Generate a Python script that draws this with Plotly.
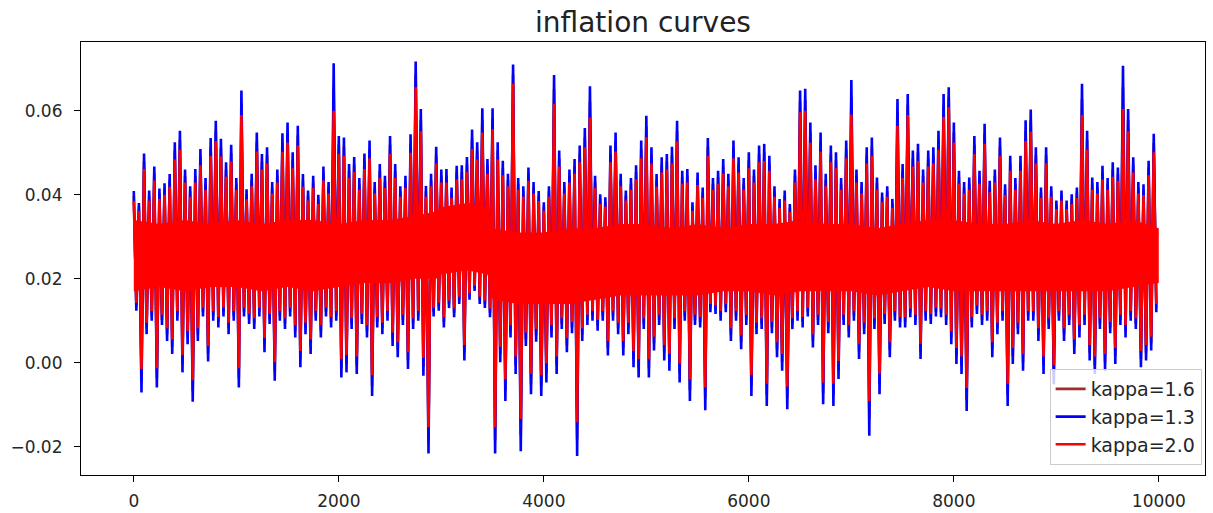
import plotly.graph_objects as go

t_hi = list(range(0, 10000, 50))
t_lo = list(range(25, 10000, 50))

# kappa = 1.3 (blue)
blue_hi = [0.0409, 0.038, 0.0498, 0.041, 0.0467, 0.0415, 0.0427, 0.0449, 0.0525, 0.0552,
           0.046, 0.042, 0.0461, 0.0509, 0.044, 0.0535, 0.0576, 0.0533, 0.0477, 0.0519,
           0.044, 0.0648, 0.0413, 0.045, 0.0548, 0.0497, 0.0513, 0.043, 0.046, 0.0546,
           0.0572, 0.0501, 0.0564, 0.0449, 0.041, 0.0445, 0.040, 0.0467, 0.043, 0.0713,
           0.0540, 0.0536, 0.0473, 0.0490, 0.044, 0.0498, 0.0529, 0.043, 0.0473, 0.0445,
           0.0540, 0.0473, 0.042, 0.0445, 0.0544, 0.0717, 0.0604, 0.0421, 0.045, 0.0514,
           0.046, 0.0461, 0.0417, 0.0469, 0.047, 0.049, 0.0555, 0.0525, 0.0606, 0.0485,
           0.0606, 0.0525, 0.0481, 0.045, 0.0710, 0.044, 0.042, 0.0465, 0.043, 0.0409,
           0.0382, 0.042, 0.0685, 0.0505, 0.043, 0.046, 0.0485, 0.0517, 0.0559, 0.0658,
           0.0445, 0.0401, 0.0394, 0.0517, 0.0548, 0.045, 0.041, 0.044, 0.047, 0.0529,
           0.0588, 0.0513, 0.0449, 0.0489, 0.0497, 0.0514, 0.0576, 0.0457, 0.0461, 0.0382,
           0.0453, 0.0417, 0.0535, 0.044, 0.0457, 0.0485, 0.045, 0.0529, 0.0489, 0.044,
           0.0501, 0.046, 0.0517, 0.0521, 0.0493, 0.042, 0.0390, 0.041, 0.0378, 0.046,
           0.0648, 0.0652, 0.0572, 0.047, 0.0548, 0.045, 0.0517, 0.0501, 0.044, 0.0529,
           0.0673, 0.046, 0.043, 0.0513, 0.0536, 0.0441, 0.0405, 0.042, 0.0390, 0.0628,
           0.0473, 0.0640, 0.0505, 0.0521, 0.046, 0.0505, 0.0513, 0.0552, 0.064, 0.0656,
           0.0572, 0.0457, 0.043, 0.0441, 0.0540, 0.0457, 0.0569, 0.0433, 0.046, 0.0536,
           0.0425, 0.0493, 0.044, 0.0493, 0.0577, 0.0603, 0.0513, 0.0417, 0.0513, 0.042,
           0.0386, 0.041, 0.0386, 0.0401, 0.0417, 0.0664, 0.0552, 0.0441, 0.043, 0.0469,
           0.044, 0.0477, 0.0465, 0.0707, 0.0604, 0.0489, 0.043, 0.0425, 0.0481, 0.0545]
blue_lo = [0.0124, -0.0071, 0.0068, 0.010, -0.0059, 0.009, 0.0052, 0.0021, 0.010, -0.0023,
           0.0044, -0.0093, 0.0052, 0.011, 0.0003, 0.010, 0.0084, 0.011, 0.0068, 0.010,
           -0.0059, 0.011, 0.0092, 0.008, 0.011, 0.0025, 0.0092, -0.0043, 0.010, 0.008,
           0.011, 0.006, -0.0011, 0.0068, 0.0021, 0.010, 0.0060, 0.011, 0.0084, 0.010,
           -0.0035, -0.0023, 0.008, -0.0027, 0.0092, 0.006, -0.0079, 0.0084, 0.0068, 0.010,
           0.0040, 0.0013, 0.009, -0.0015, 0.008, 0.010, -0.0031, -0.0216, 0.011, 0.0124,
           0.0084, 0.013, 0.0108, 0.014, 0.0005, 0.015, 0.0171, 0.014, 0.013, 0.0108,
           -0.0216, 0.0001, -0.0091, 0.006, -0.0027, -0.0211, 0.004, -0.0075, 0.005, -0.0079,
           -0.0047, 0.006, -0.0027, 0.008, 0.0025, 0.007, -0.0222, 0.0052, 0.009, 0.010,
           0.0076, 0.0100, 0.0017, 0.010, 0.0068, 0.0017, 0.0068, -0.0011, -0.0035, 0.008,
           -0.0035, 0.0029, 0.009, 0.0005, -0.0019, 0.008, -0.0047, 0.010, -0.0091, 0.009,
           0.0084, -0.0113, 0.012, 0.0116, 0.010, 0.012, 0.0052, 0.010, 0.0032, 0.009,
           -0.0079, 0.0068, 0.008, -0.0103, 0.007, 0.0013, -0.0019, -0.0111, 0.008, 0.010,
           0.0084, 0.011, 0.0036, 0.009, -0.0099, 0.007, -0.0103, -0.0039, 0.009, 0.0060,
           0.010, 0.0009, 0.0068, -0.0174, 0.008, -0.0075, 0.0092, 0.0013, 0.010, 0.0084,
           0.0084, 0.0108, 0.009, 0.0009, 0.010, 0.0092, 0.011, 0.0108, 0.009, 0.0044,
           -0.0003, -0.0027, -0.0115, 0.0084, 0.0116, 0.009, 0.0100, 0.0013, 0.0068, 0.010,
           -0.0103, -0.0003, 0.0068, -0.0019, 0.010, 0.0100, 0.0052, -0.0027, 0.008, -0.0051,
           0.0100, 0.0052, 0.009, 0.0021, 0.0060, 0.009, 0.0005, -0.0027, 0.008, -0.0019,
           0.007, -0.0003, 0.009, 0.0060, 0.010, 0.008, -0.0011, 0.0005, 0.0029, 0.012]

# kappa = 2.0 (red)
red_hi = [0.0385, 0.0361, 0.0461, 0.0386, 0.0434, 0.0390, 0.0400, 0.0419, 0.0484, 0.0507,
          0.0429, 0.0395, 0.0429, 0.0470, 0.0412, 0.0492, 0.0527, 0.0491, 0.0443, 0.0479,
          0.0412, 0.0590, 0.0389, 0.0420, 0.0503, 0.0460, 0.0474, 0.0403, 0.0429, 0.0502,
          0.0524, 0.0463, 0.0517, 0.0419, 0.0386, 0.0416, 0.0378, 0.0434, 0.0403, 0.0600,
          0.0497, 0.0493, 0.0440, 0.0454, 0.0412, 0.0461, 0.0487, 0.0403, 0.0440, 0.0416,
          0.0497, 0.0440, 0.0395, 0.0416, 0.0500, 0.0656, 0.0551, 0.0395, 0.0420, 0.0474,
          0.0429, 0.0429, 0.0392, 0.0436, 0.0437, 0.0454, 0.0509, 0.0484, 0.0548, 0.0450,
          0.0556, 0.0484, 0.0446, 0.0420, 0.0664, 0.0412, 0.0395, 0.0433, 0.0403, 0.0385,
          0.0362, 0.0395, 0.0616, 0.0467, 0.0403, 0.0429, 0.0450, 0.0477, 0.0513, 0.0584,
          0.0416, 0.0378, 0.0372, 0.0477, 0.0503, 0.0420, 0.0386, 0.0412, 0.0437, 0.0487,
          0.0537, 0.0474, 0.0419, 0.0453, 0.0460, 0.0474, 0.0527, 0.0426, 0.0429, 0.0362,
          0.0423, 0.0392, 0.0492, 0.0412, 0.0426, 0.0450, 0.0420, 0.0487, 0.0453, 0.0412,
          0.0463, 0.0429, 0.0477, 0.0480, 0.0457, 0.0395, 0.0369, 0.0386, 0.0359, 0.0429,
          0.0596, 0.0600, 0.0524, 0.0437, 0.0503, 0.0420, 0.0477, 0.0463, 0.0412, 0.0487,
          0.0591, 0.0429, 0.0403, 0.0474, 0.0493, 0.0412, 0.0382, 0.0395, 0.0369, 0.0564,
          0.0440, 0.0590, 0.0467, 0.0480, 0.0429, 0.0467, 0.0474, 0.0507, 0.0585, 0.0608,
          0.0524, 0.0426, 0.0403, 0.0412, 0.0497, 0.0426, 0.0521, 0.0406, 0.0429, 0.0493,
          0.0399, 0.0457, 0.0412, 0.0457, 0.0528, 0.0550, 0.0474, 0.0392, 0.0474, 0.0395,
          0.0366, 0.0386, 0.0366, 0.0378, 0.0392, 0.0590, 0.0507, 0.0412, 0.0403, 0.0436,
          0.0412, 0.0443, 0.0433, 0.0604, 0.0551, 0.0453, 0.0403, 0.0399, 0.0446, 0.0501]
red_lo = [0.0143, -0.0015, 0.0095, 0.0123, -0.0013, 0.0114, 0.0082, 0.0055, 0.0123, 0.0018,
          0.0075, -0.0042, 0.0082, 0.0131, 0.0040, 0.0123, 0.0109, 0.0131, 0.0095, 0.0123,
          -0.0013, 0.0131, 0.0116, 0.0106, 0.0131, 0.0059, 0.0116, 0.0001, 0.0123, 0.0106,
          0.0131, 0.0089, 0.0028, 0.0095, 0.0055, 0.0123, 0.0089, 0.0131, 0.0109, 0.0123,
          0.0008, 0.0018, 0.0106, 0.0015, 0.0116, 0.0089, -0.0030, 0.0109, 0.0095, 0.0123,
          0.0072, 0.0049, 0.0114, 0.0025, 0.0106, 0.0123, 0.0011, -0.0154, 0.0131, 0.0143,
          0.0109, 0.0148, 0.0129, 0.0157, 0.0042, 0.0165, 0.0183, 0.0157, 0.0148, 0.0129,
          -0.0154, 0.0038, -0.0040, 0.0089, 0.0015, -0.0134, 0.0072, -0.0026, 0.0080, -0.0030,
          -0.0002, 0.0089, 0.0015, 0.0106, 0.0059, 0.0097, -0.0142, 0.0082, 0.0114, 0.0123,
          0.0102, 0.0123, 0.0052, 0.0123, 0.0095, 0.0052, 0.0095, 0.0028, 0.0008, 0.0106,
          0.0008, 0.0062, 0.0114, 0.0042, 0.0021, 0.0106, -0.0002, 0.0123, -0.0040, 0.0114,
          0.0109, -0.0059, 0.0140, 0.0136, 0.0123, 0.0140, 0.0082, 0.0123, 0.0065, 0.0114,
          -0.0030, 0.0095, 0.0106, -0.0050, 0.0097, 0.0049, 0.0021, -0.0057, 0.0106, 0.0123,
          0.0109, 0.0131, 0.0068, 0.0114, -0.0047, 0.0097, -0.0050, 0.0004, 0.0114, 0.0089,
          0.0123, 0.0045, 0.0095, -0.0091, 0.0106, -0.0026, 0.0116, 0.0049, 0.0123, 0.0109,
          0.0109, 0.0129, 0.0114, 0.0045, 0.0123, 0.0116, 0.0131, 0.0129, 0.0114, 0.0075,
          0.0035, 0.0015, -0.0060, 0.0109, 0.0136, 0.0114, 0.0123, 0.0049, 0.0095, 0.0123,
          -0.0050, 0.0035, 0.0095, 0.0021, 0.0123, 0.0123, 0.0082, 0.0015, 0.0106, -0.0006,
          0.0123, 0.0082, 0.0114, 0.0055, 0.0089, 0.0114, 0.0042, 0.0015, 0.0106, 0.0021,
          0.0097, 0.0035, 0.0114, 0.0089, 0.0123, 0.0106, 0.0028, 0.0042, 0.0062, 0.0140]

# dense core of the kappa = 2.0 curve (where it fills the whole band)
core_t = [0, 250, 500, 750, 1000, 1250, 1500, 1750, 2000, 2250, 2500, 2750, 2950, 3000,
          3250, 3450, 3500, 3750, 4000, 4250, 4500, 4750, 5000, 5250, 5500, 5750, 6000,
          6250, 6500, 6750, 7000, 7250, 7500, 7750, 8000, 8250, 8500, 8750, 9000, 9250,
          9500, 9750, 9999]
core_upper = [0.034, 0.033, 0.034, 0.033, 0.034, 0.033, 0.034, 0.034, 0.033, 0.034, 0.034,
              0.035, 0.036, 0.037, 0.038, 0.037, 0.032, 0.031, 0.031, 0.032, 0.032, 0.033,
              0.033, 0.032, 0.033, 0.032, 0.033, 0.033, 0.034, 0.033, 0.033, 0.032, 0.033,
              0.034, 0.034, 0.033, 0.033, 0.034, 0.033, 0.034, 0.033, 0.034, 0.032]
core_lower = [0.017, 0.018, 0.017, 0.018, 0.018, 0.017, 0.018, 0.017, 0.018, 0.019, 0.019,
              0.020, 0.020, 0.021, 0.022, 0.021, 0.015, 0.014, 0.014, 0.014, 0.015, 0.016,
              0.016, 0.016, 0.016, 0.017, 0.017, 0.016, 0.017, 0.017, 0.017, 0.016, 0.017,
              0.018, 0.017, 0.017, 0.017, 0.017, 0.017, 0.017, 0.017, 0.018, 0.019]

# kappa = 1.6 (brown, drawn underneath)
brown_hi = [0.0397, 0.0371, 0.0480, 0.0398, 0.0451, 0.0403, 0.0414, 0.0434, 0.0505, 0.0530,
            0.0445, 0.0408, 0.0445, 0.0490, 0.0426, 0.0514, 0.0552, 0.0512, 0.0460, 0.0499,
            0.0426, 0.0619, 0.0401, 0.0435, 0.0526, 0.0479, 0.0494, 0.0417, 0.0445, 0.0524,
            0.0548, 0.0482, 0.0541, 0.0434, 0.0398, 0.0431, 0.0389, 0.0451, 0.0417, 0.0657,
            0.0519, 0.0515, 0.0457, 0.0472, 0.0426, 0.0480, 0.0508, 0.0417, 0.0457, 0.0431,
            0.0519, 0.0457, 0.0408, 0.0431, 0.0522, 0.0687, 0.0578, 0.0408, 0.0435, 0.0494,
            0.0445, 0.0445, 0.0405, 0.0453, 0.0454, 0.0472, 0.0532, 0.0505, 0.0577, 0.0468,
            0.0581, 0.0505, 0.0464, 0.0435, 0.0687, 0.0426, 0.0408, 0.0449, 0.0417, 0.0397,
            0.0372, 0.0408, 0.0651, 0.0486, 0.0417, 0.0445, 0.0468, 0.0497, 0.0536, 0.0621,
            0.0431, 0.0390, 0.0383, 0.0497, 0.0526, 0.0435, 0.0398, 0.0426, 0.0454, 0.0508,
            0.0563, 0.0494, 0.0434, 0.0471, 0.0479, 0.0494, 0.0552, 0.0442, 0.0445, 0.0372,
            0.0438, 0.0405, 0.0514, 0.0426, 0.0442, 0.0468, 0.0435, 0.0508, 0.0471, 0.0426,
            0.0482, 0.0445, 0.0497, 0.0501, 0.0475, 0.0408, 0.0380, 0.0398, 0.0369, 0.0445,
            0.0622, 0.0626, 0.0548, 0.0454, 0.0526, 0.0435, 0.0497, 0.0482, 0.0426, 0.0508,
            0.0632, 0.0445, 0.0417, 0.0494, 0.0515, 0.0427, 0.0394, 0.0408, 0.0380, 0.0596,
            0.0457, 0.0615, 0.0486, 0.0501, 0.0445, 0.0486, 0.0494, 0.0530, 0.0613, 0.0632,
            0.0548, 0.0442, 0.0417, 0.0427, 0.0519, 0.0442, 0.0545, 0.0420, 0.0445, 0.0515,
            0.0412, 0.0475, 0.0426, 0.0475, 0.0553, 0.0577, 0.0494, 0.0405, 0.0494, 0.0408,
            0.0376, 0.0398, 0.0376, 0.0390, 0.0405, 0.0627, 0.0530, 0.0427, 0.0417, 0.0453,
            0.0426, 0.0460, 0.0449, 0.0656, 0.0578, 0.0471, 0.0417, 0.0412, 0.0464, 0.0523]
brown_lo = [0.0134, -0.0043, 0.0082, 0.0112, -0.0036, 0.0102, 0.0067, 0.0038, 0.0112, -0.0003,
            0.0060, -0.0068, 0.0067, 0.0121, 0.0022, 0.0112, 0.0097, 0.0121, 0.0082, 0.0112,
            -0.0036, 0.0121, 0.0104, 0.0093, 0.0121, 0.0042, 0.0104, -0.0021, 0.0112, 0.0093,
            0.0121, 0.0075, 0.0009, 0.0082, 0.0038, 0.0112, 0.0075, 0.0121, 0.0097, 0.0112,
            -0.0014, -0.0003, 0.0093, -0.0006, 0.0104, 0.0075, -0.0055, 0.0097, 0.0082, 0.0112,
            0.0056, 0.0031, 0.0102, 0.0005, 0.0093, 0.0112, -0.0010, -0.0185, 0.0121, 0.0134,
            0.0097, 0.0139, 0.0119, 0.0149, 0.0024, 0.0158, 0.0177, 0.0149, 0.0139, 0.0119,
            -0.0185, 0.0020, -0.0066, 0.0075, -0.0006, -0.0173, 0.0056, -0.0051, 0.0065, -0.0055,
            -0.0025, 0.0075, -0.0006, 0.0093, 0.0042, 0.0084, -0.0182, 0.0067, 0.0102, 0.0112,
            0.0089, 0.0112, 0.0035, 0.0112, 0.0082, 0.0035, 0.0082, 0.0009, -0.0014, 0.0093,
            -0.0014, 0.0046, 0.0102, 0.0024, 0.0001, 0.0093, -0.0025, 0.0112, -0.0066, 0.0102,
            0.0097, -0.0086, 0.0130, 0.0126, 0.0112, 0.0130, 0.0067, 0.0112, 0.0049, 0.0102,
            -0.0055, 0.0082, 0.0093, -0.0077, 0.0084, 0.0031, 0.0001, -0.0084, 0.0093, 0.0112,
            0.0097, 0.0121, 0.0052, 0.0102, -0.0073, 0.0084, -0.0077, -0.0018, 0.0102, 0.0075,
            0.0112, 0.0027, 0.0082, -0.0133, 0.0093, -0.0051, 0.0104, 0.0031, 0.0112, 0.0097,
            0.0097, 0.0119, 0.0102, 0.0027, 0.0112, 0.0104, 0.0121, 0.0119, 0.0102, 0.0060,
            0.0016, -0.0006, -0.0088, 0.0097, 0.0126, 0.0102, 0.0112, 0.0031, 0.0082, 0.0112,
            -0.0077, 0.0016, 0.0082, 0.0001, 0.0112, 0.0112, 0.0067, -0.0006, 0.0093, -0.0029,
            0.0112, 0.0067, 0.0102, 0.0038, 0.0075, 0.0102, 0.0024, -0.0006, 0.0093, 0.0001,
            0.0084, 0.0016, 0.0102, 0.0075, 0.0112, 0.0093, 0.0009, 0.0024, 0.0046, 0.0130]

x_ticks = [0, 2000, 4000, 6000, 8000, 10000]
y_ticks = [-0.02, 0.00, 0.02, 0.04, 0.06]

series = [
    ("kappa=1.6", brown_hi, brown_lo, "#a52a2a"),
    ("kappa=1.3", blue_hi, blue_lo, "#0000ff"),
    ("kappa=2.0", red_hi, red_lo, "#ff0000"),
]


def interleave(a, b):
    out = []
    for u, v in zip(a, b):
        out.extend([u, v])
    return out


t_all = interleave(t_hi, t_lo)

fig = go.Figure()
for name, hi, lo, color in series:
    if name == "kappa=2.0":
        fig.add_trace(go.Scatter(
            x=core_t + core_t[::-1], y=core_upper + core_lower[::-1],
            mode="lines", fill="toself", fillcolor=color,
            line=dict(width=0, color=color), hoverinfo="skip",
            legendgroup=name, showlegend=False,
        ))
    fig.add_trace(go.Scatter(
        x=t_all, y=interleave(hi, lo), mode="lines", name=name,
        legendgroup=name,
        line=dict(color=color, width=2.6),
    ))

axis_common = dict(
    showline=True, linecolor="black", linewidth=1.2, mirror=True,
    showgrid=False, zeroline=False, automargin=False,
    ticks="outside", ticklen=6, tickwidth=1.2, tickcolor="black",
    tickfont=dict(family="DejaVu Sans", size=17, color="#262626"),
)

fig.update_layout(
    width=1213, height=513,
    margin=dict(l=81, r=8, t=42, b=38),
    paper_bgcolor="white", plot_bgcolor="white",
    title=dict(text="inflation curves", x=0.5, xref="paper",
               y=1 - 22 / 513, yref="container", yanchor="middle",
               font=dict(family="DejaVu Sans", size=28, color="#222222")),
    xaxis=dict(range=[-515, 10450], tickvals=x_ticks, tickformat="d",
               ticklabelstandoff=4, **axis_common),
    yaxis=dict(range=[-0.02674, 0.07636], tickvals=y_ticks, tickformat=".2f",
               ticklabelstandoff=8, **axis_common),
    legend=dict(
        x=0.997, y=0.023, xanchor="right", yanchor="bottom",
        bgcolor="rgba(255,255,255,0.8)", bordercolor="#cccccc", borderwidth=1,
        font=dict(family="DejaVu Sans", size=19, color="#262626"),
        tracegroupgap=7, traceorder="normal",
    ),
    showlegend=True,
)

fig.write_html("out.html")
